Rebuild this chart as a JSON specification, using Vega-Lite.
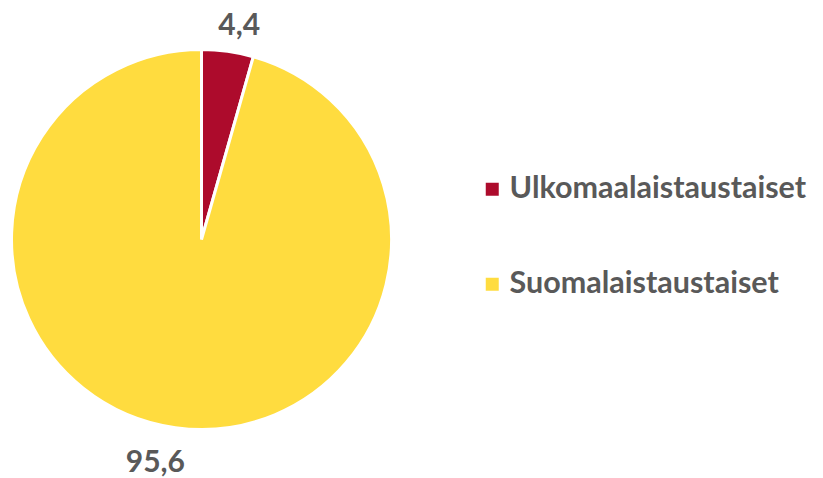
{
  "$schema": "https://vega.github.io/schema/vega-lite/v6.json",
  "width": 403,
  "height": 473,
  "padding": {"left": 0, "top": 0, "right": 0, "bottom": 0},
  "background": "white",
  "view": {"stroke": null},
  "config": {"font": "Lato"},
  "data": {"values": [
    {"ryhma": "Ulkomaalaistaustaiset", "osuus": 4.4, "label": "4,4", "ord": 1},
    {"ryhma": "Suomalaistaustaiset", "osuus": 95.6, "label": "95,6", "ord": 2}
  ]},
  "encoding": {
    "theta": {"field": "osuus", "type": "quantitative", "stack": true},
    "order": {"field": "ord", "type": "quantitative"}
  },
  "layer": [
    {
      "mark": {"type": "arc", "outerRadius": 190, "stroke": "white", "strokeWidth": 3},
      "encoding": {
        "color": {
          "field": "ryhma", "type": "nominal",
          "scale": {"domain": ["Ulkomaalaistaustaiset", "Suomalaistaustaiset"], "range": ["#AD0B2C", "#FFDC3F"]},
          "legend": {
            "title": null, "orient": "none", "legendX": 477, "legendY": 171,
            "symbolType": "square", "symbolSize": 169, "symbolStrokeWidth": 0,
            "labelFont": "Lato", "labelFontSize": 30.5, "labelFontWeight": "bold", "labelColor": "#595959",
            "labelOffset": 2, "rowPadding": 64, "labelLimit": 400
          }
        }
      }
    },
    {
      "mark": {"type": "text", "radius": 216, "dx": 8, "font": "Lato", "fontSize": 30, "fontWeight": "bold", "color": "#595959"},
      "encoding": {"text": {"condition": {"test": "datum.ord == 1", "field": "label"}, "value": ""}}
    },
    {
      "mark": {"type": "text", "radius": 226, "dx": -15, "font": "Lato", "fontSize": 30, "fontWeight": "bold", "color": "#595959"},
      "encoding": {"text": {"condition": {"test": "datum.ord == 2", "field": "label"}, "value": ""}}
    }
  ]
}
